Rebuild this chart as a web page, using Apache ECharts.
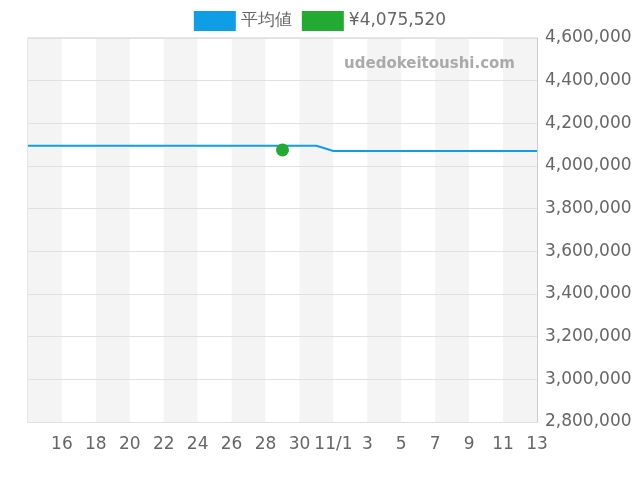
<!DOCTYPE html>
<html><head><meta charset="utf-8">
<script src="https://cdn.jsdelivr.net/npm/echarts@6/dist/echarts.min.js"></script>
<style>html,body{margin:0;padding:0}#c{width:640px;height:480px}</style>
</head><body><div id="c"></div>
<script>
const categories = ["10/14\n2025","15","16","17","18","19","20","21","22","23","24","25","26","27","28","29","30","31","11/1","2","3","4","5","6","7","8","9","10","11","12","13"];
const avgValues = [4095000,4095000,4095000,4095000,4095000,4095000,4095000,4095000,4095000,4095000,4095000,4095000,4095000,4095000,4095000,4095000,4095000,4095000,4070000,4070000,4070000,4070000,4070000,4070000,4070000,4070000,4070000,4070000,4070000,4070000,4070000];
const pointValues = [null,null,null,null,null,null,null,null,null,null,null,null,null,null,null,4075520,null,null,null,null,null,null,null,null,null,null,null,null,null,null,null];
const chart = echarts.init(document.getElementById('c'));
chart.setOption({
  animation:false,
  textStyle:{fontFamily:'DejaVu Sans'},
  legend:{top:6,itemWidth:42,itemHeight:20,itemGap:10,textStyle:{fontSize:17,color:'#666'},
    data:[{name:'平均値',icon:'rect'},{name:'¥4,075,520',icon:'rect'}]},
  graphic:[{type:'text',right:125,top:57,z:100,style:{text:'udedokeitoushi.com',fill:'#aaa',font:'bold 15px DejaVu Sans'}}],
  grid:{left:28,right:103,top:38,bottom:58,show:true,borderColor:'#ccc',borderWidth:1,backgroundColor:'transparent'},
  xAxis:{type:'category',data:categories,boundaryGap:false,z:0,
    axisLine:{lineStyle:{color:'#ccc'}},axisTick:{show:false},
    axisLabel:{interval:1,fontSize:17,color:'#666',margin:12,lineHeight:22},
    splitLine:{show:false},
    splitArea:{show:true,areaStyle:{color:['#f4f4f4','#fff']}}},
  yAxis:{type:'value',position:'right',min:2800000,max:4600000,interval:200000,z:3,
    axisLine:{show:true,lineStyle:{color:'#ccc'}},axisTick:{show:false},
    axisLabel:{fontSize:17,color:'#666',formatter:v=>v.toLocaleString('en-US')},
    splitLine:{lineStyle:{color:'#e0e0e0'}}},
  series:[
    {name:'平均値',type:'line',data:avgValues,color:'#0f9ee6',showSymbol:false,lineStyle:{width:2},z:5},
    {name:'¥4,075,520',type:'scatter',data:pointValues,color:'#22aa33',symbolSize:13,itemStyle:{opacity:1},z:6}
  ]
});
</script></body></html>
